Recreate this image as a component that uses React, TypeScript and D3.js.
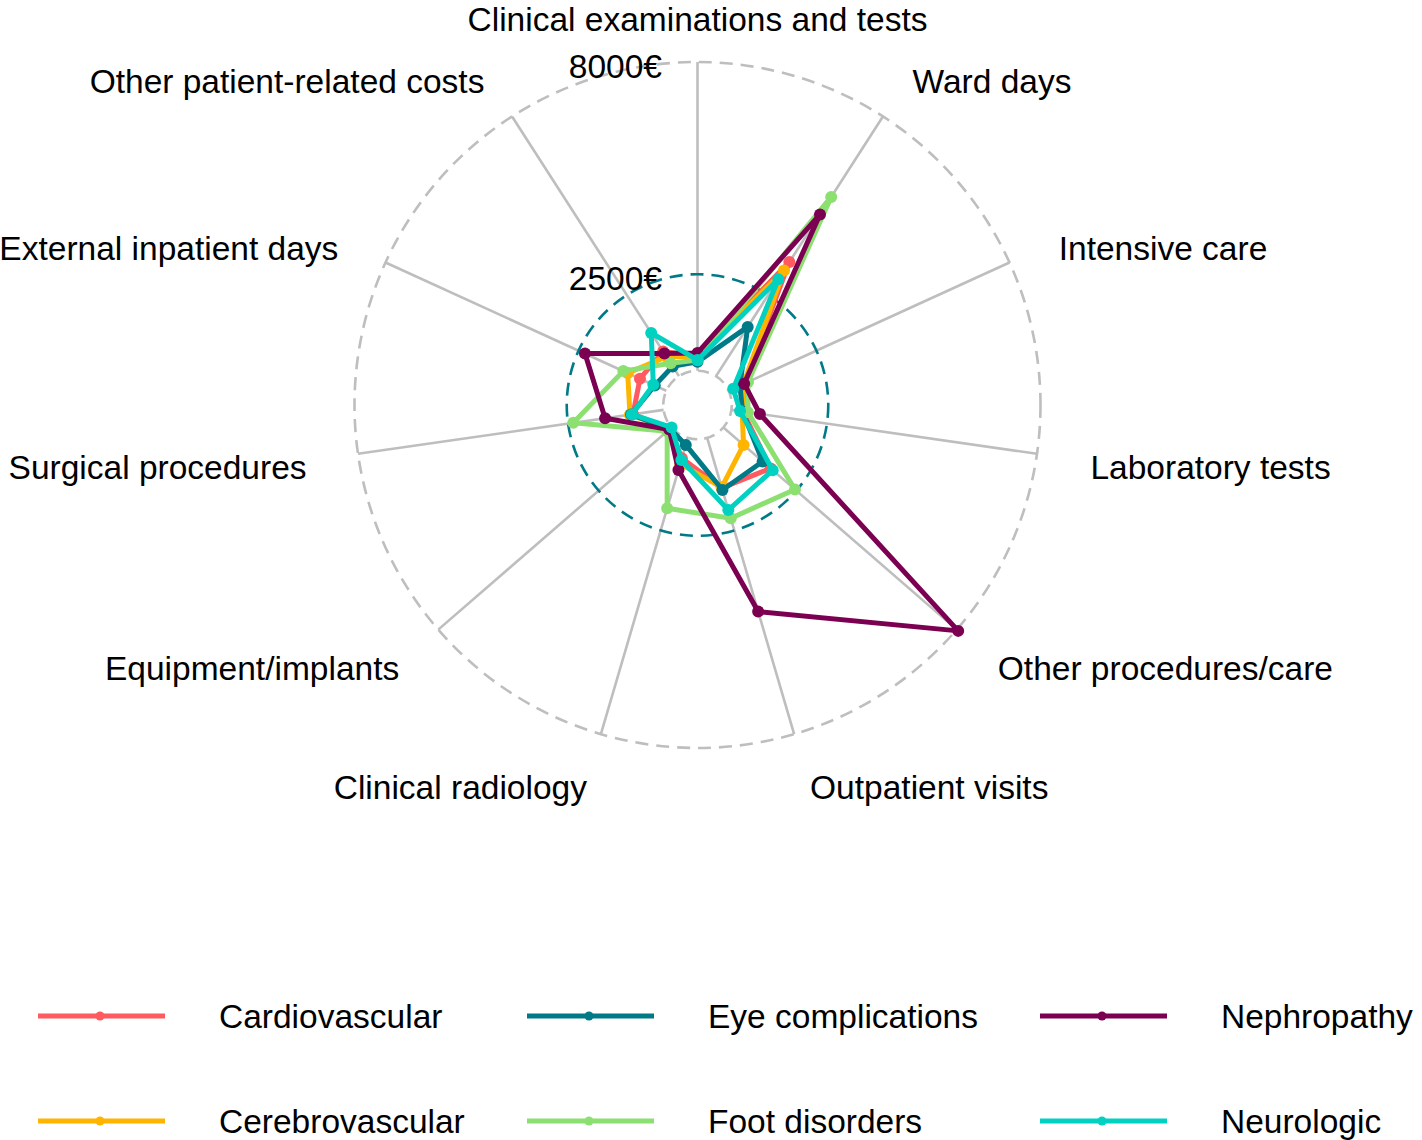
import React, { useEffect } from "react";
import * as d3 from "d3";

const categories = [
  "Clinical examinations and tests",
  "Ward days",
  "Intensive care",
  "Laboratory tests",
  "Other procedures/care",
  "Outpatient visits",
  "Clinical radiology",
  "Equipment/implants",
  "Surgical procedures",
  "External inpatient days",
  "Other patient-related costs",
];

const seriesNames = [
  "Cardiovascular",
  "Cerebrovascular",
  "Eye complications",
  "Foot disorders",
  "Nephropathy",
  "Neurologic",
];

const cardiovascular = [380, 3513, 430, 300, 1620, 1350, 550, 60, 800, 750, 760];
const cerebrovascular = [370, 3257, 420, 280, 690, 1334, 700, 60, 880, 1100, 600];
const eyeComplications = [230, 1517, 320, 290, 1346, 1407, 190, 50, 850, 330, 300];
const footDisorders = [280, 5520, 550, 430, 2454, 2170, 1902, 150, 2363, 1225, 400];
const nephropathy = [460, 4983, 440, 745, 8050, 4690, 866, 80, 1530, 2317, 700];
const neurologic = [280, 2985, 130, 225, 1690, 1947, 596, 0, 830, 370, 1330];

const seriesValues = [
  cardiovascular,
  cerebrovascular,
  eyeComplications,
  footDisorders,
  nephropathy,
  neurologic,
];

const colors = ["#FF5A5F", "#FFB400", "#007A87", "#8CE071", "#7B0051", "#00D1C1"];

const gridMin = 0;
const gridMid = 2500;
const gridMax = 8000;
const gridLabels = ["2500€", "8000€"];

export default function App() {
  useEffect(() => {
    document.body.style.margin = "0";
  }, []);

  const W = 1422;
  const H = 1140;
  const cx = 697.5;
  const cy = 405;
  const centreY = gridMin - (gridMax - gridMin) / 9;
  const rScale = d3.scaleLinear().domain([centreY, gridMax]).range([0, 343]);
  const n = categories.length;
  const angle = d3
    .scaleLinear()
    .domain([0, n])
    .range([0, 2 * Math.PI]);

  const pt = (i: number, v: number) => {
    const a = angle(i);
    const r = rScale(v);
    return [cx + r * Math.sin(a), cy - r * Math.cos(a)] as [number, number];
  };

  const line = d3
    .line<[number, number]>()
    .x((d) => d[0])
    .y((d) => d[1])
    .curve(d3.curveLinearClosed);

  const font = "'Liberation Sans', Arial, sans-serif";
  const fs = 33.5;

  const rMin = rScale(gridMin);
  const rMid = rScale(gridMid);
  const rMax = rScale(gridMax);

  const legendCols = [38, 527, 1040];
  const legendRows = [1016, 1121];

  return (
    <div style={{ position: "absolute", left: 0, top: 0 }}>
      <svg width={W} height={H} style={{ display: "block", background: "#fff" }}>
        {/* axes */}
        {categories.map((c, i) => {
          const a = angle(i);
          return (
            <line
              key={"ax" + i}
              x1={cx + rMin * Math.sin(a)}
              y1={cy - rMin * Math.cos(a)}
              x2={cx + rMax * Math.sin(a)}
              y2={cy - rMax * Math.cos(a)}
              stroke="#BEBEBE"
              strokeWidth={2.6}
            />
          );
        })}
        {/* grid circles */}
        <circle cx={cx} cy={cy} r={rMin} fill="none" stroke="#BEBEBE" strokeWidth={2.6} strokeDasharray="11 7" />
        <circle cx={cx} cy={cy} r={rMid} fill="none" stroke="#007A87" strokeWidth={2.6} strokeDasharray="13 8" />
        <circle cx={cx} cy={cy} r={rMax} fill="none" stroke="#BEBEBE" strokeWidth={2.6} strokeDasharray="13 8" />
        {/* grid labels */}
        <text x={cx - 35.5} y={cy - rMid + 16} textAnchor="end" fontFamily={font} fontSize={fs} fill="#000">
          {gridLabels[0]}
        </text>
        <text x={cx - 35.5} y={cy - rMax + 16} textAnchor="end" fontFamily={font} fontSize={fs} fill="#000">
          {gridLabels[1]}
        </text>
        {/* axis labels */}
        {categories.map((c, i) => {
          const a = angle(i);
          const s = Math.sin(a);
          const x = 698.5 + 396 * s;
          const y = 423 - 392 * Math.cos(a);
          const anchor = Math.abs(s) < 1e-6 ? "middle" : s > 0 ? "start" : "end";
          return (
            <text key={"lb" + i} x={Math.abs(s) < 1e-6 ? cx : x} y={y} textAnchor={anchor} fontFamily={font} fontSize={fs} fill="#000">
              {c}
            </text>
          );
        })}
        {/* series */}
        {seriesValues.map((vals, si) => {
          const pts = vals.map((v, i) => pt(i, v));
          return (
            <g key={"s" + si}>
              <path d={line(pts) || ""} fill="none" stroke={colors[si]} strokeWidth={5} strokeLinejoin="round" />
              {pts.map((p, i) => (
                <circle key={i} cx={p[0]} cy={p[1]} r={6} fill={colors[si]} />
              ))}
            </g>
          );
        })}
        {/* legend */}
        {seriesNames.map((name, si) => {
          const col = Math.floor(si / 2);
          const row = si % 2;
          const x0 = legendCols[col];
          const y0 = legendRows[row];
          return (
            <g key={"lg" + si}>
              <line x1={x0} x2={x0 + 127} y1={y0} y2={y0} stroke={colors[si]} strokeWidth={5} />
              <circle cx={x0 + 62} cy={y0} r={4.5} fill={colors[si]} />
              <text x={x0 + 181} y={y0 + 12} fontFamily={font} fontSize={fs} fill="#000">
                {name}
              </text>
            </g>
          );
        })}
      </svg>
    </div>
  );
}
